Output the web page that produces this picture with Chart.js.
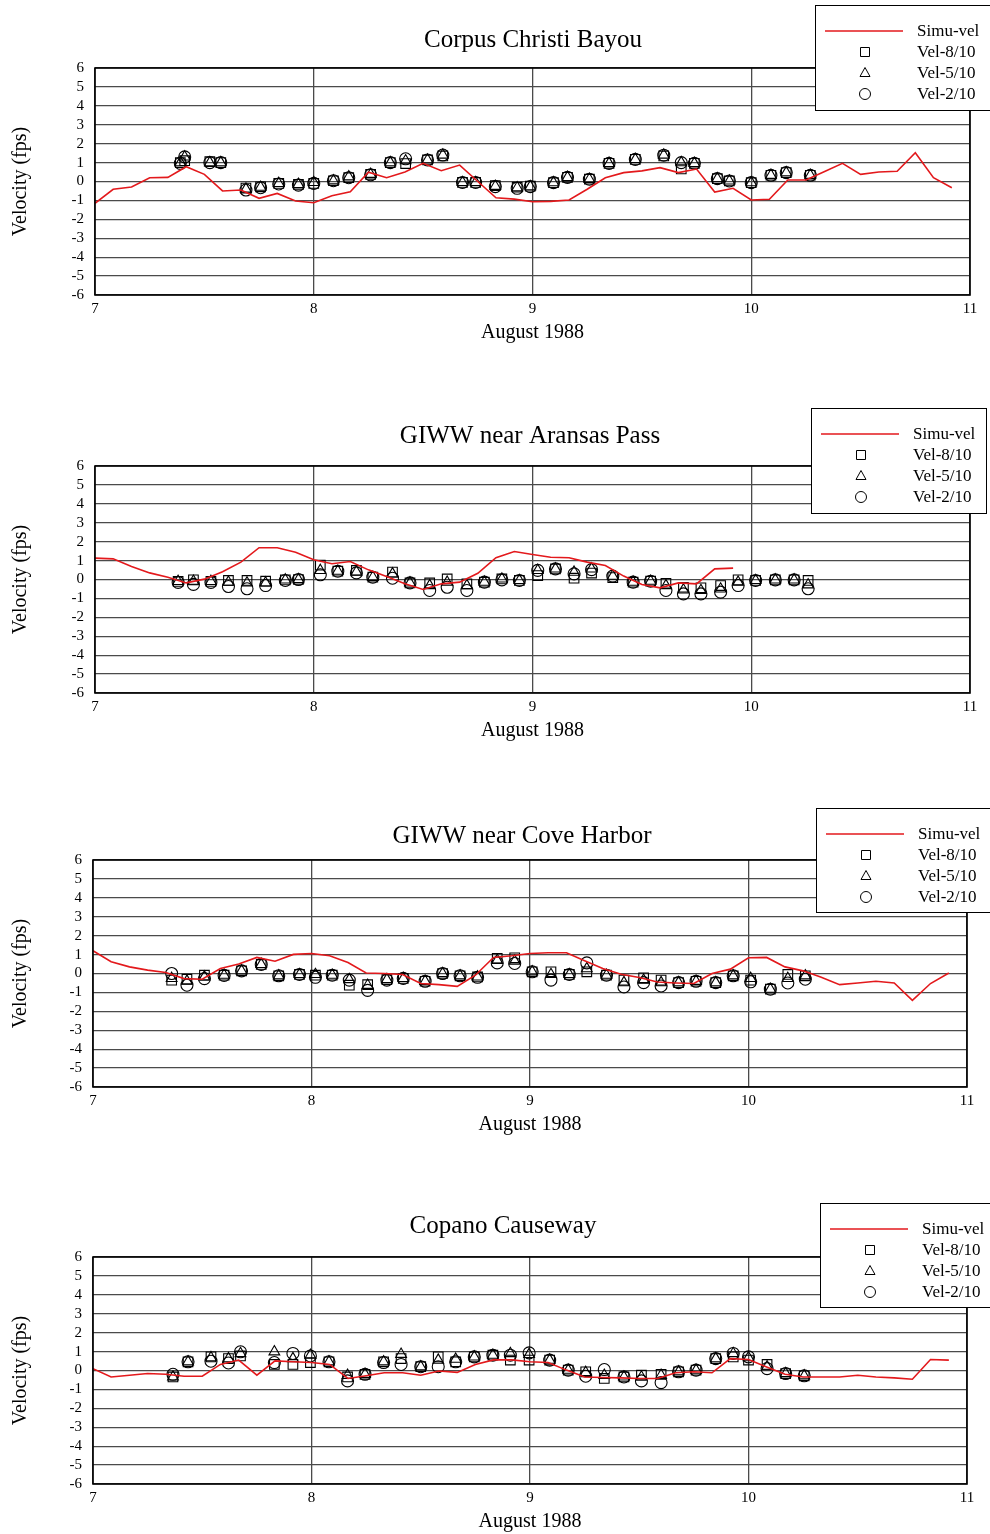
<!DOCTYPE html>
<html>
<head>
<meta charset="utf-8">
<script src="https://cdn.jsdelivr.net/npm/chart.js@4.4.1/dist/chart.umd.min.js"></script>
<style>
  html, body { margin: 0; padding: 0; background: #fff; }
  body { width: 990px; height: 1534px; position: relative; overflow: hidden; }
  canvas { position: absolute; left: 0; }
</style>
</head>
<body>
<canvas id="p1" width="990" height="345" style="top:0px"></canvas>
<canvas id="p2" width="990" height="345" style="top:398px"></canvas>
<canvas id="p3" width="990" height="345" style="top:792px"></canvas>
<canvas id="p4" width="990" height="345" style="top:1189px"></canvas>
<script>
// time of simulated output, day of August 1988 (2-hourly)
const simTimes = [
  7, 7.083, 7.167, 7.25, 7.333, 7.417, 7.5, 7.583, 7.667, 7.75, 7.833, 7.917,
  8, 8.083, 8.167, 8.25, 8.333, 8.417, 8.5, 8.583, 8.667, 8.75, 8.833, 8.917,
  9, 9.083, 9.167, 9.25, 9.333, 9.417, 9.5, 9.583, 9.667, 9.75, 9.833, 9.917,
  10, 10.083, 10.167, 10.25, 10.333, 10.417, 10.5, 10.583, 10.667, 10.75, 10.833, 10.917
];
const xTicks = [7, 8, 9, 10, 11];
const yTicks = [-6, -5, -4, -3, -2, -1, 0, 1, 2, 3, 4, 5, 6];
const seriesNames = ['Simu-vel', 'Vel-8/10', 'Vel-5/10', 'Vel-2/10'];

// Corpus Christi Bayou
const ccSim = [-1.15, -0.41, -0.29, 0.2, 0.22, 0.78, 0.38, -0.5, -0.45, -0.89, -0.63, -1.03,
  -1.12, -0.75, -0.54, 0.49, 0.2, 0.5, 0.96, 0.57, 0.87, 0.0, -0.86, -0.93,
  -1.07, -1.05, -0.98, -0.41, 0.2, 0.47, 0.56, 0.73, 0.47, 0.66, -0.56, -0.36,
  -0.98, -0.94, 0.08, 0.08, 0.52, 0.96, 0.38, 0.5, 0.54, 1.52, 0.2, -0.33];
const ccObsT = [7.39, 7.41, 7.525, 7.575, 7.69, 7.757, 7.84, 7.93, 8.0, 8.09, 8.16, 8.26,
  8.35, 8.42, 8.52, 8.59, 8.68, 8.74, 8.83, 8.93, 8.99, 9.096, 9.16, 9.26,
  9.35, 9.47, 9.6, 9.68, 9.74, 9.845, 9.9, 10.0, 10.09, 10.16, 10.27];
const ccVel8 = [1.0, 1.1, 1.05, 1.0, -0.35, -0.28, -0.1, -0.15, -0.1, 0.04, 0.2, 0.38,
  1.0, 0.95, 1.14, 1.35, -0.05, -0.05, -0.22, -0.3, -0.25, -0.06, 0.22, 0.12,
  0.96, 1.17, 1.35, 0.66, 0.96, 0.15, 0.03, -0.06, 0.33, 0.47, 0.33];
const ccVel5 = [1.0, 1.3, 1.0, 1.0, -0.4, -0.3, -0.1, -0.15, -0.05, 0.04, 0.25, 0.38,
  1.0, 1.1, 1.14, 1.4, -0.05, -0.05, -0.25, -0.33, -0.27, -0.06, 0.22, 0.12,
  0.96, 1.17, 1.4, 1.0, 0.96, 0.15, 0.03, -0.06, 0.33, 0.47, 0.33];
const ccVel2 = [0.96, 1.3, 1.0, 1.0, -0.45, -0.33, -0.13, -0.19, -0.1, 0.04, 0.2, 0.35,
  1.0, 1.2, 1.14, 1.4, -0.05, -0.05, -0.27, -0.36, -0.27, -0.06, 0.22, 0.12,
  0.96, 1.17, 1.39, 1.0, 0.96, 0.15, 0.03, -0.06, 0.33, 0.47, 0.33];

// GIWW near Aransas Pass
const apSim = [1.13, 1.09, 0.69, 0.35, 0.12, -0.18, 0.02, 0.41, 0.92, 1.68, 1.68, 1.44,
  1.04, 0.83, 0.95, 0.51, 0.16, -0.23, -0.53, -0.23, -0.14, 0.33, 1.15, 1.48,
  1.32, 1.18, 1.15, 0.92, 0.74, 0.18, -0.26, -0.44, -0.18, -0.23, 0.56, 0.6];
const apObsT = [7.38, 7.45, 7.53, 7.61, 7.695, 7.78, 7.87, 7.93, 8.03, 8.11, 8.195, 8.27,
  8.36, 8.44, 8.53, 8.61, 8.7, 8.78, 8.86, 8.94, 9.024, 9.105, 9.19, 9.27,
  9.367, 9.46, 9.54, 9.61, 9.69, 9.77, 9.86, 9.94, 10.02, 10.11, 10.196, 10.26];
const apVel8 = [-0.1, -0.02, -0.1, -0.05, -0.05, -0.09, -0.02, 0.0, 0.76, 0.44, 0.48, 0.12,
  0.39, -0.18, -0.18, 0.03, -0.23, -0.14, 0.03, -0.05, 0.21, 0.56, 0.07, 0.34,
  0.1, -0.14, -0.09, -0.2, -0.41, -0.44, -0.32, -0.02, -0.05, -0.02, -0.02, -0.05];
const apVel5 = [-0.1, -0.09, -0.1, -0.14, -0.18, -0.18, -0.02, 0.0, 0.48, 0.44, 0.4, 0.12,
  0.3, -0.18, -0.32, -0.14, -0.32, -0.14, 0.03, -0.05, 0.48, 0.56, 0.39, 0.56,
  0.18, -0.14, -0.09, -0.32, -0.55, -0.58, -0.5, -0.14, -0.05, -0.02, -0.02, -0.28];
const apVel2 = [-0.15, -0.26, -0.15, -0.37, -0.49, -0.32, -0.05, 0.0, 0.25, 0.44, 0.35, 0.12,
  0.07, -0.18, -0.58, -0.41, -0.58, -0.14, -0.02, -0.05, 0.48, 0.56, 0.3, 0.52,
  0.18, -0.14, -0.09, -0.58, -0.76, -0.76, -0.67, -0.32, -0.05, -0.02, -0.02, -0.49];

// GIWW near Cove Harbor
const chSim = [1.2, 0.62, 0.35, 0.18, 0.05, -0.27, -0.3, 0.26, 0.5, 0.85, 0.65, 1.01,
  1.06, 0.94, 0.58, 0.03, 0.0, -0.05, -0.53, -0.59, -0.68, -0.09, 0.85, 0.94,
  1.06, 1.1, 1.1, 0.67, 0.26, -0.04, -0.21, -0.45, -0.5, -0.53, 0.0, 0.23,
  0.83, 0.85, 0.35, 0.14, -0.2, -0.59, -0.5, -0.41, -0.5, -1.42, -0.53, 0.03];
const chObsT = [7.36, 7.43, 7.51, 7.6, 7.68, 7.77, 7.85, 7.945, 8.018, 8.095, 8.173, 8.257,
  8.345, 8.42, 8.52, 8.6, 8.68, 8.76, 8.85, 8.93, 9.01, 9.096, 9.18, 9.26,
  9.35, 9.43, 9.52, 9.6, 9.68, 9.76, 9.85, 9.93, 10.01, 10.1, 10.18, 10.26];
const chVel8 = [-0.35, -0.3, -0.09, -0.09, 0.14, 0.48, -0.12, -0.05, -0.09, -0.09, -0.62, -0.59,
  -0.32, -0.26, -0.41, 0.0, -0.12, -0.18, 0.8, 0.83, 0.09, 0.09, -0.05, 0.09,
  -0.09, -0.35, -0.23, -0.35, -0.48, -0.41, -0.48, -0.12, -0.35, -0.83, -0.05, -0.12];
const chVel5 = [-0.26, -0.4, -0.18, -0.09, 0.14, 0.48, -0.12, -0.05, -0.05, -0.09, -0.32, -0.62,
  -0.32, -0.26, -0.41, 0.0, -0.12, -0.18, 0.7, 0.66, 0.09, -0.05, -0.05, 0.26,
  -0.09, -0.48, -0.35, -0.48, -0.48, -0.41, -0.48, -0.12, -0.26, -0.83, -0.26, -0.12];
const chVel2 = [0.0, -0.62, -0.27, -0.1, 0.14, 0.48, -0.12, -0.05, -0.2, -0.09, -0.35, -0.89,
  -0.35, -0.26, -0.41, 0.0, -0.12, -0.2, 0.56, 0.53, 0.09, -0.35, -0.05, 0.56,
  -0.09, -0.71, -0.48, -0.66, -0.48, -0.41, -0.48, -0.12, -0.44, -0.83, -0.5, -0.3];

// Copano Causeway
const cpSim = [0.1, -0.34, -0.25, -0.16, -0.2, -0.3, -0.3, 0.32, 0.55, -0.25, 0.51, 0.46,
  0.42, 0.32, -0.42, -0.28, -0.12, -0.12, -0.25, -0.03, -0.1, 0.32, 0.56, 0.56,
  0.46, 0.42, 0.02, -0.34, -0.37, -0.39, -0.42, -0.42, -0.12, -0.07, -0.12, 0.63,
  0.58, 0.19, -0.2, -0.34, -0.34, -0.34, -0.25, -0.34, -0.39, -0.46, 0.58, 0.55];
const cpObsT = [7.366, 7.435, 7.54, 7.62, 7.675, 7.83, 7.915, 7.995, 8.08, 8.165, 8.245, 8.33,
  8.41, 8.5, 8.58, 8.66, 8.745, 8.83, 8.91, 8.996, 9.09, 9.175, 9.255, 9.34,
  9.43, 9.51, 9.6, 9.68, 9.76, 9.85, 9.93, 10.0, 10.085, 10.17, 10.255];
const cpVel8 = [-0.34, 0.46, 0.72, 0.63, 0.77, 0.32, 0.32, 0.42, 0.46, -0.34, -0.2, 0.46,
  0.63, 0.2, 0.72, 0.46, 0.72, 0.81, 0.55, 0.55, 0.55, 0.02, -0.07, -0.42,
  -0.34, -0.25, -0.2, -0.07, 0.02, 0.63, 0.72, 0.55, 0.32, -0.16, -0.28];
const cpVel5 = [-0.34, 0.46, 0.68, 0.63, 0.9, 0.99, 0.63, 0.81, 0.46, -0.25, -0.2, 0.46,
  0.86, 0.2, 0.55, 0.6, 0.72, 0.81, 0.9, 0.85, 0.55, 0.02, -0.1, -0.25,
  -0.34, -0.34, -0.25, -0.07, 0.02, 0.63, 0.9, 0.68, 0.2, -0.16, -0.28];
const cpVel2 = [-0.2, 0.46, 0.49, 0.4, 0.99, 0.42, 0.9, 0.77, 0.46, -0.55, -0.2, 0.42,
  0.32, 0.2, 0.2, 0.46, 0.72, 0.81, 0.81, 0.93, 0.55, 0.02, -0.3, 0.05,
  -0.34, -0.55, -0.64, -0.07, 0.02, 0.63, 0.9, 0.72, 0.1, -0.16, -0.28];

const SERIF = '"Liberation Serif", "Times New Roman", serif';

function pairs(xs, ys) {
  return ys.map((y, i) => ({ x: xs[i], y: y }));
}

// markers drawn by hand for the boxed legend
function marker(ctx, style, x, y) {
  ctx.beginPath();
  if (style === 'rect') {
    ctx.rect(x - 4.5, y - 4.5, 9, 9);
  } else if (style === 'triangle') {
    ctx.moveTo(x, y - 5.5);
    ctx.lineTo(x + 5, y + 3.5);
    ctx.lineTo(x - 5, y + 3.5);
    ctx.closePath();
  } else {
    ctx.arc(x, y, 5.5, 0, Math.PI * 2);
  }
  ctx.stroke();
}

const framePlugin = {
  id: 'frame',
  afterDraw(chart) {
    const o = chart.options.plugins.frame;
    const a = chart.chartArea;
    const ctx = chart.ctx;
    ctx.save();
    ctx.strokeStyle = '#000';
    ctx.lineWidth = 1.6;
    ctx.strokeRect(a.left, a.top, a.right - a.left, a.bottom - a.top);

    ctx.fillStyle = '#000';
    ctx.font = '25px ' + SERIF;
    ctx.textAlign = 'center';
    ctx.textBaseline = 'middle';
    ctx.fillText(o.title, o.titleX, o.titleY);

    // legend box
    const b = o.legend;
    ctx.fillStyle = '#fff';
    ctx.fillRect(b.x, b.y, b.w, b.h);
    ctx.strokeStyle = '#000';
    ctx.lineWidth = 1;
    ctx.strokeRect(b.x + 0.5, b.y + 0.5, b.w, b.h);
    ctx.font = '17px ' + SERIF;
    ctx.textAlign = 'left';
    chart.data.datasets.forEach((ds, i) => {
      const ry = b.y + 26 + i * 21;
      if (ds.showLine) {
        ctx.strokeStyle = ds.borderColor;
        ctx.lineWidth = 1.5;
        ctx.beginPath();
        ctx.moveTo(b.x + 10, ry);
        ctx.lineTo(b.x + 88, ry);
        ctx.stroke();
      } else {
        ctx.strokeStyle = '#000';
        ctx.lineWidth = 1;
        marker(ctx, ds.pointStyle, b.x + 50, ry);
      }
      ctx.fillStyle = '#000';
      ctx.fillText(ds.label, b.x + 102, ry + 1);
    });
    ctx.restore();
  }
};

function makePanel(id, sim, obsT, v8, v5, v2, frame) {
  const obsStyle = (label, data, style, r) => ({
    label: label,
    data: pairs(obsT, data),
    showLine: false,
    pointStyle: style,
    pointRadius: r,
    borderColor: '#000',
    backgroundColor: 'rgba(0,0,0,0)',
    borderWidth: 1.1
  });
  new Chart(document.getElementById(id), {
    type: 'scatter',
    data: {
      datasets: [
        {
          label: seriesNames[0],
          data: pairs(simTimes, sim),
          showLine: true,
          borderColor: '#e3191c',
          borderWidth: 1.6,
          pointRadius: 0,
          tension: 0
        },
        obsStyle(seriesNames[1], v8, 'rect', 6.8),
        obsStyle(seriesNames[2], v5, 'triangle', 6.2),
        obsStyle(seriesNames[3], v2, 'circle', 6)
      ]
    },
    options: {
      responsive: false,
      animation: false,
      events: [],
      layout: { padding: { left: 0, right: 990 - frame.right, top: 68, bottom: 0 } },
      plugins: {
        legend: { display: false },
        tooltip: { enabled: false },
        frame: frame
      },
      scales: {
        x: {
          type: 'linear',
          min: xTicks[0],
          max: xTicks[xTicks.length - 1],
          afterBuildTicks: s => { s.ticks = xTicks.map(v => ({ value: v })); },
          afterFit: s => { s.height = 50; s.paddingLeft = 0; s.paddingRight = 0; },
          grid: { color: '#4a4a4a', lineWidth: 1.3, drawTicks: false },
          border: { display: false },
          ticks: { autoSkip: false, maxRotation: 0, color: '#000', padding: 5, font: { family: SERIF, size: 15 } },
          title: {
            display: true, text: 'August 1988', color: '#000',
            font: { family: SERIF, size: 20 }, padding: { top: 0, bottom: 0 }
          }
        },
        y: {
          min: yTicks[0],
          max: yTicks[yTicks.length - 1],
          afterBuildTicks: s => { s.ticks = yTicks.map(v => ({ value: v })); },
          afterFit: s => { s.width = frame.left; s.paddingTop = 0; s.paddingBottom = 0; },
          grid: { color: '#4a4a4a', lineWidth: 1.3, drawTicks: false },
          border: { display: false },
          ticks: { autoSkip: false, color: '#000', padding: 11, font: { family: SERIF, size: 15 } },
          title: {
            display: true, text: 'Velocity (fps)', color: '#000',
            font: { family: SERIF, size: 20 }, padding: { top: 9, bottom: 0 }
          }
        }
      }
    },
    plugins: [framePlugin]
  });
}

makePanel('p1', ccSim, ccObsT, ccVel8, ccVel5, ccVel2,
  { left: 95, right: 970, title: 'Corpus Christi Bayou', titleX: 533, titleY: 40,
    legend: { x: 815, y: 5, w: 180, h: 105 } });
makePanel('p2', apSim, apObsT, apVel8, apVel5, apVel2,
  { left: 95, right: 970, title: 'GIWW near Aransas Pass', titleX: 530, titleY: 38,
    legend: { x: 811, y: 10, w: 175, h: 105 } });
makePanel('p3', chSim, chObsT, chVel8, chVel5, chVel2,
  { left: 93, right: 967, title: 'GIWW near Cove Harbor', titleX: 522, titleY: 44,
    legend: { x: 816, y: 16, w: 176, h: 104 } });
makePanel('p4', cpSim, cpObsT, cpVel8, cpVel5, cpVel2,
  { left: 93, right: 967, title: 'Copano Causeway', titleX: 503, titleY: 37,
    legend: { x: 820, y: 14, w: 172, h: 104 } });
</script>
</body>
</html>
